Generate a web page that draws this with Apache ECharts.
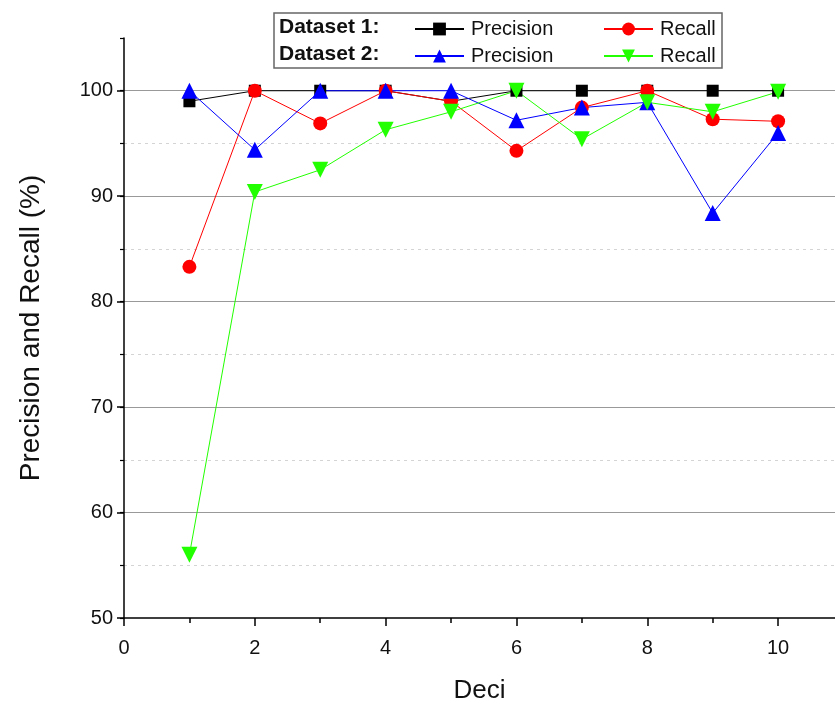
<!DOCTYPE html>
<html>
<head>
<meta charset="utf-8">
<title>Precision and Recall</title>
<script src="https://cdn.jsdelivr.net/npm/echarts@6/dist/echarts.min.js"></script>
<style>
  html, body { margin: 0; padding: 0; background: #fff; }
  #chart { width: 835px; height: 704px; }
</style>
</head>
<body>
<div id="chart"></div>
<script>
// x values (Deci)
const deci = [1, 2, 3, 4, 5, 6, 7, 8, 9, 10]
// Dataset 1
const precision1 = [99.0, 100, 100, 100, 99.0, 100, 100, 100, 100, 100]
const recall1 = [83.3, 100, 96.9, 100, 99.0, 94.3, 98.4, 100, 97.3, 97.1]
// Dataset 2
const precision2 = [100, 94.4, 100, 100, 100, 97.2, 98.4, 98.9, 88.4, 96.0]
const recall2 = [56.0, 90.4, 92.5, 96.3, 98.0, 100, 95.4, 98.9, 98.0, 99.9]
// tick labels
const xMajorTicks = [0, 2, 4, 6, 8, 10]
const xMinorTicks = [1, 3, 5, 7, 9]
const yMajorTicks = [50, 60, 70, 80, 90, 100]

const FONT = '"Liberation Sans", Arial, sans-serif'

const chart = echarts.init(document.getElementById('chart'))

function pairs(values) {
  return deci.map((x, i) => [x, values[i]])
}

function makeSeries(name, values, color, symbol, size, rotate) {
  return {
    name: name,
    type: 'line',
    data: pairs(values),
    symbol: symbol,
    symbolSize: size,
    symbolRotate: rotate || 0,
    showAllSymbol: true,
    lineStyle: { color: color, width: 1 },
    itemStyle: { color: color },
    emphasis: { disabled: true },
    animation: false
  }
}

function legendItem(name, left, top) {
  return {
    data: [name],
    left: left,
    top: top,
    padding: 0,
    z: 6,
    itemWidth: 49,
    itemHeight: 16,
    itemGap: 0,
    formatter: n => n.split(' ').pop(),
    textStyle: { fontFamily: FONT, fontSize: 20, color: '#111', padding: [0, 0, 0, 2] },
    selectedMode: false
  }
}

const option = {
  backgroundColor: '#fff',
  animation: false,
  grid: { left: 124, right: 0, top: 38, bottom: 86, containLabel: false, outerBoundsMode: 'none' },
  graphic: [
    {
      type: 'rect',
      z: 0,
      shape: { x: 274, y: 13, width: 448, height: 55 },
      style: { fill: '#fff', stroke: '#666', lineWidth: 1.5 }
    },
    {
      type: 'text',
      z: 7,
      left: 279, top: 17,
      style: { text: 'Dataset 1:', font: 'bold 21px ' + FONT, fill: '#111' }
    },
    {
      type: 'text',
      z: 7,
      left: 279, top: 44,
      style: { text: 'Dataset 2:', font: 'bold 21px ' + FONT, fill: '#111' }
    }
  ],
  legend: [
    legendItem('D1 Precision', 414, 19),
    legendItem('D1 Recall', 603, 19),
    legendItem('D2 Precision', 414, 46),
    legendItem('D2 Recall', 603, 46)
  ],
  xAxis: [
    {
      type: 'value',
      min: 0,
      max: 10.87,
      interval: 2,
      name: 'Deci',
      nameLocation: 'middle',
      nameGap: 60,
      nameTextStyle: { fontFamily: FONT, fontSize: 26, color: '#111' },
      axisLine: { onZero: false, lineStyle: { color: '#000', width: 1.5 } },
      axisTick: { customValues: xMajorTicks, length: 8, lineStyle: { color: '#000', width: 1.5 } },
      axisLabel: { customValues: xMajorTicks, margin: 20, fontFamily: FONT, fontSize: 20, color: '#111' },
      splitLine: { show: false }
    },
    {
      type: 'value',
      position: 'bottom',
      min: 0,
      max: 10.87,
      interval: 1,
      axisLine: { show: false },
      axisTick: { customValues: xMinorTicks, length: 5, lineStyle: { color: '#000', width: 1.5 } },
      axisLabel: { show: false },
      splitLine: { show: false }
    }
  ],
  yAxis: [
    {
      type: 'value',
      min: 50,
      max: 105,
      interval: 10,
      z: 1,
      name: 'Precision and Recall (%)',
      nameLocation: 'middle',
      nameGap: 79,
      nameTextStyle: { fontFamily: FONT, fontSize: 28, color: '#111' },
      axisLine: { show: true, onZero: false, lineStyle: { color: '#000', width: 1.5 } },
      axisTick: { customValues: yMajorTicks, length: 7, lineStyle: { color: '#000', width: 1.5 } },
      axisLabel: { customValues: yMajorTicks, margin: 11, fontFamily: FONT, fontSize: 20, color: '#111' },
      splitLine: { show: true, showMinLine: false, showMaxLine: true, lineStyle: { color: '#999', width: 1.2 } }
    },
    {
      type: 'value',
      position: 'left',
      min: 50,
      max: 105,
      interval: 5,
      z: 0,
      axisLine: { show: false },
      axisTick: { length: 4, lineStyle: { color: '#000', width: 1.2 } },
      axisLabel: { show: false },
      splitLine: { show: true, showMinLine: false, showMaxLine: false, lineStyle: { color: '#d4d4d4', width: 1, type: [3, 4] } }
    }
  ],
  series: [
    makeSeries('D1 Precision', precision1, '#000000', 'rect', 12),
    makeSeries('D1 Recall', recall1, '#ff0000', 'circle', 14),
    makeSeries('D2 Precision', precision2, '#0000ff', 'triangle', 16),
    makeSeries('D2 Recall', recall2, '#22ff00', 'triangle', 16, 180)
  ]
}

chart.setOption(option)
</script>
</body>
</html>
